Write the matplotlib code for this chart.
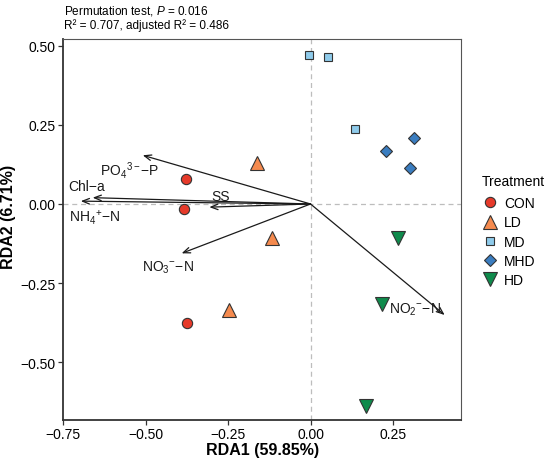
"""RDA biplot of sample scores and environmental vectors by treatment."""
import matplotlib
matplotlib.use("Agg")
import matplotlib.pyplot as plt

plt.rcParams["font.family"] = ["Liberation Sans", "DejaVu Sans"]
plt.rcParams["mathtext.fontset"] = "custom"
plt.rcParams["mathtext.rm"] = "Liberation Sans"
plt.rcParams["mathtext.it"] = "Liberation Sans:italic"
plt.rcParams["mathtext.bf"] = "Liberation Sans:bold"

# sample scores per treatment
treatments = ["CON", "LD", "MD", "MHD", "HD"]
rda1 = {
    "CON": [-0.379, -0.385, -0.374],
    "LD": [-0.163, -0.116, -0.248],
    "MD": [-0.004, 0.053, 0.135],
    "MHD": [0.315, 0.229, 0.301],
    "HD": [0.264, 0.218, 0.168],
}
rda2 = {
    "CON": [0.080, -0.017, -0.376],
    "LD": [0.129, -0.109, -0.335],
    "MD": [0.471, 0.466, 0.236],
    "MHD": [0.208, 0.169, 0.115],
    "HD": [-0.107, -0.316, -0.639],
}

# environmental vectors (arrow tips)
env_names = ["PO$_4$$^{3\u2212}$\u2212P", "Chl\u2212a", "NH$_4$$^{+}$\u2212N", "SS",
             "NO$_3$$^{\u2212}$\u2212N", "NO$_2$$^{\u2212}$\u2212N"]
env_x = [-0.509, -0.661, -0.697, -0.307, -0.391, 0.407]
env_y = [0.154, 0.020, 0.009, -0.010, -0.156, -0.351]
label_x = [-0.548, -0.679, -0.654, -0.272, -0.432, 0.238]
label_y = [0.108, 0.057, -0.042, 0.026, -0.198, -0.330]
label_ha = ["center", "center", "center", "center", "center", "left"]

styles = {
    "CON": dict(marker="o", color="#E63A2A", size=7.4),
    "LD": dict(marker="^", color="#F58A4E", size=9.6),
    "MD": dict(marker="s", color="#8FCBEB", size=6.3),
    "MHD": dict(marker="D", color="#3A7DC0", size=5.9),
    "HD": dict(marker="v", color="#0F8B4C", size=9.6),
}

fig = plt.figure(figsize=(5.5, 4.64), dpi=100)
ax = fig.add_axes([0.114, 0.0927, 0.725, 0.822])

ax.axhline(0, color="#bdbdbd", lw=0.9, ls=(0, (4, 3)), zorder=0)
ax.axvline(0, color="#bdbdbd", lw=0.9, ls=(0, (4, 3)), zorder=0)

for x, y in zip(env_x, env_y):
    ax.annotate("", xy=(x, y), xytext=(0, 0),
                arrowprops=dict(arrowstyle="->,head_length=0.5,head_width=0.2",
                                color="#1a1a1a", lw=0.9, shrinkA=0, shrinkB=0))

for name, x, y, ha in zip(env_names, label_x, label_y, label_ha):
    ax.text(x, y, name, fontsize=10, ha=ha, va="center", color="#1a1a1a")

for t in treatments:
    st = styles[t]
    ax.plot(rda1[t], rda2[t], ls="none", marker=st["marker"], ms=st["size"],
            mfc=st["color"], mec="#333333", mew=0.8, label=t, zorder=3)

ax.set_xlim(-0.752, 0.458)
ax.set_ylim(-0.683, 0.523)
ax.set_xticks([-0.75, -0.50, -0.25, 0.00, 0.25])
ax.set_yticks([-0.50, -0.25, 0.00, 0.25, 0.50])
fmt = plt.FuncFormatter(lambda v, p: f"{v:.2f}".replace("-", "\u2212"))
ax.xaxis.set_major_formatter(fmt)
ax.yaxis.set_major_formatter(fmt)
ax.tick_params(labelsize=10, length=3.5, width=0.9, pad=1.5,
               colors="#333333", labelcolor="black")

for side in ["left", "bottom"]:
    ax.spines[side].set_color("#333333")
    ax.spines[side].set_linewidth(1.3)
for side in ["top", "right"]:
    ax.spines[side].set_color("#555555")
    ax.spines[side].set_linewidth(0.8)

ax.set_xlabel("RDA1 (59.85%)", fontsize=11.5, fontweight="bold", labelpad=1)
ax.set_ylabel("RDA2 (6.71%)", fontsize=11.5, fontweight="bold")
ax.yaxis.set_label_coords(-0.117, 0.534)

fig.text(0.116, 0.977, "Permutation test, $P$ = 0.016", fontsize=8.5, va="center")
fig.text(0.116, 0.944, "R\u00b2 = 0.707, adjusted R\u00b2 = 0.486", fontsize=8.5, va="center")

leg = ax.legend(title="Treatment", loc="upper left", bbox_to_anchor=(1.037, 0.66),
                frameon=False, fontsize=10, title_fontsize=10, handletextpad=0.4,
                labelspacing=0.38, borderaxespad=0, handlelength=1.2)
leg._legend_box.align = "left"
leg._legend_box.sep = 6

fig.savefig("out.png", dpi=100)
